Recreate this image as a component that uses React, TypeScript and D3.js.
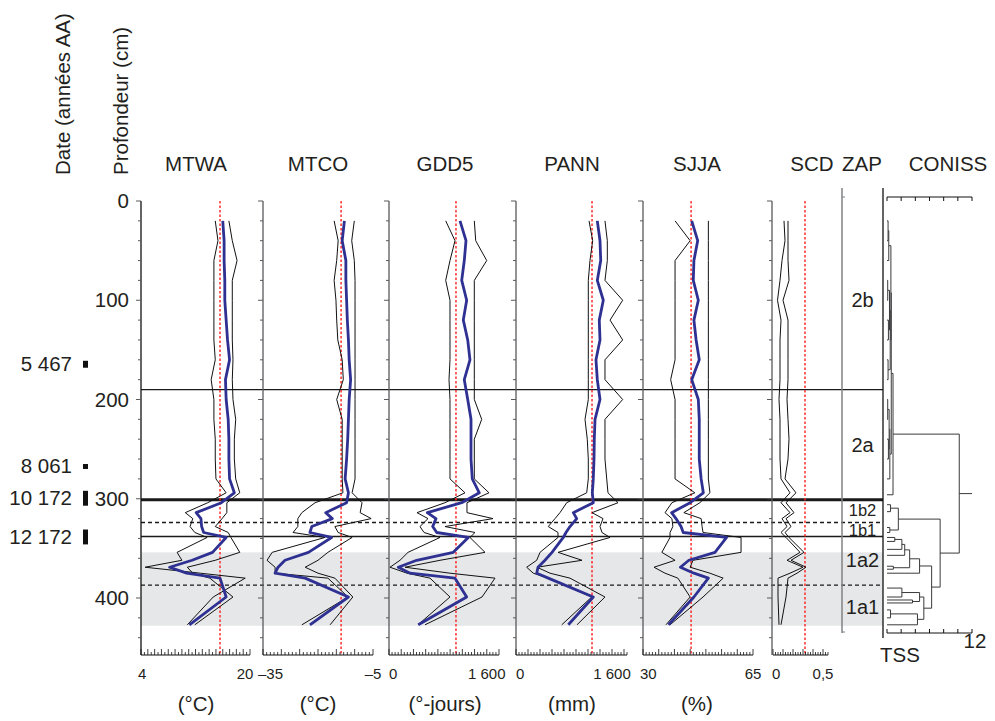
import React from "react";
import * as d3 from "d3";

// ---------- DATA ----------
const depths = [20, 40, 60, 80, 100, 120, 140, 160, 180, 200, 220, 240, 260, 280, 294, 304, 314, 320, 328, 334, 339, 354, 362, 369, 375, 380, 399, 427];

const mtwaMean = [16.0, 16.2, 16.2, 16.3, 16.3, 16.5, 16.7, 17.0, 16.4, 16.5, 16.8, 16.9, 16.9, 17.0, 17.7, 15.8, 12.1, 12.8, 12.9, 13.2, 16.5, 14.5, 11.5, 8.2, 10.7, 15.6, 16.5, 11.1];
const mtwaLow = [14.9, 15.3, 14.7, 14.7, 14.7, 14.7, 14.7, 14.9, 14.3, 14.7, 14.7, 14.9, 14.9, 15.0, 16.5, 13.8, 10.5, 11.6, 11.2, 11.9, 13.7, 9.3, 10.0, 4.6, 12.7, 19.3, 14.6, 10.8];
const mtwaHigh = [16.9, 17.4, 18.1, 17.4, 17.4, 17.4, 17.4, 17.5, 17.4, 17.5, 17.9, 17.7, 17.7, 17.9, 18.5, 16.6, 16.6, 15.9, 14.9, 16.8, 17.2, 18.5, 14.9, 10.8, 11.6, 14.1, 17.5, 11.9];

const mtcoMean = [-12.8, -13.4, -12.4, -12.4, -12.2, -12.0, -11.7, -11.5, -11.1, -11.5, -11.7, -11.9, -12.2, -12.6, -11.7, -12.2, -17.9, -16.1, -21.7, -22.2, -16.3, -22.6, -29.0, -30.9, -31.7, -23.5, -11.7, -22.2];
const mtcoLow = [-15.6, -14.5, -14.9, -15.6, -15.1, -14.9, -14.6, -13.4, -13.1, -14.9, -13.4, -13.4, -13.4, -13.4, -13.2, -20.8, -24.4, -25.5, -25.5, -26.8, -18.1, -32.5, -33.9, -31.7, -31.7, -17.3, -11.8, -24.4];
const mtcoHigh = [-10.1, -10.8, -10.1, -9.9, -9.9, -9.9, -9.9, -9.9, -9.9, -9.9, -9.9, -9.9, -9.9, -9.9, -10.7, -8.0, -8.5, -5.5, -15.4, -14.5, -10.7, -17.3, -20.0, -23.5, -20.0, -15.4, -10.5, -16.7];

const gdd5Mean = [1162, 1260, 1232, 1190, 1271, 1216, 1288, 1325, 1232, 1288, 1342, 1342, 1342, 1363, 1478, 1190, 627, 769, 715, 781, 1298, 1052, 453, 152, 344, 1080, 1271, 479];
const gdd5Low = [928, 1080, 998, 928, 998, 998, 998, 998, 982, 998, 998, 998, 998, 998, 1244, 916, 458, 638, 507, 573, 835, 311, 180, 16, 295, 671, 998, 475];
const gdd5High = [1396, 1419, 1599, 1396, 1396, 1396, 1396, 1396, 1396, 1396, 1517, 1396, 1396, 1396, 1636, 1276, 1276, 1702, 916, 1407, 1325, 1571, 835, 262, 998, 1735, 1522, 589];

const pannMean = [1355, 1400, 1412, 1355, 1455, 1388, 1400, 1333, 1355, 1400, 1317, 1305, 1300, 1288, 1272, 1288, 955, 1012, 900, 833, 788, 600, 483, 367, 345, 538, 1288, 872];
const pannLow = [1217, 1278, 1233, 1205, 1205, 1205, 1205, 1205, 1205, 1205, 1150, 1188, 1205, 1205, 1178, 845, 733, 650, 538, 700, 700, 400, 345, 178, 288, 538, 1262, 762];
const pannHigh = [1483, 1522, 1522, 1483, 1778, 1567, 1778, 1483, 1483, 1778, 1483, 1483, 1483, 1512, 1533, 1700, 1267, 1450, 1400, 1433, 1567, 700, 1100, 350, 567, 900, 1483, 1017];

const sjjaMean = [45.5, 47.4, 46.2, 46.0, 47.6, 46.2, 46.9, 47.9, 45.5, 47.6, 47.9, 47.9, 47.9, 48.5, 49.2, 45.0, 39.1, 40.5, 42.1, 42.8, 56.6, 52.9, 44.6, 41.9, 46.2, 50.8, 46.2, 38.1];
const sjjaLow = [40.2, 45.0, 40.2, 40.2, 40.2, 40.2, 40.2, 40.2, 38.8, 40.2, 40.2, 40.2, 40.2, 40.2, 46.5, 39.2, 37.0, 39.2, 39.5, 38.6, 38.6, 36.0, 40.2, 33.5, 37.0, 41.1, 45.0, 37.3];
const sjjaHigh = [50.8, 50.8, 50.8, 50.8, 50.8, 50.8, 50.8, 50.8, 50.8, 50.8, 50.8, 50.8, 50.8, 50.8, 51.3, 48.1, 43.0, 48.5, 48.8, 49.1, 61.2, 61.2, 45.9, 45.0, 51.3, 55.5, 49.1, 38.6];

const scdLow = [0.11, 0.12, 0.09, 0.07, 0.045, 0.08, 0.07, 0.07, 0.07, 0.06, 0.07, 0.07, 0.07, 0.08, 0.17, 0.08, 0.17, 0.09, 0.14, 0.08, 0.13, 0.27, 0.14, 0.30, 0.17, 0.05, 0.05, 0.06];
const scdHigh = [0.15, 0.15, 0.15, 0.16, 0.10, 0.15, 0.15, 0.15, 0.15, 0.14, 0.15, 0.16, 0.15, 0.12, 0.23, 0.13, 0.21, 0.13, 0.18, 0.12, 0.16, 0.31, 0.18, 0.33, 0.24, 0.15, 0.13, 0.08];

const panelNames = ["MTWA", "MTCO", "GDD5", "PANN", "SJJA", "SCD"];
const panelUnits = ["(°C)", "(°C)", "(°-jours)", "(mm)", "(%)", ""];
const panelDomains: [number, number][] = [[4, 20], [-35, -5], [0, 1800], [0, 1850], [30, 65], [0, 0.55]];
const modernValues = [15.6, -13.7, 1096, 1267, 45.3, 0.32];
const axisMinLabels = ["4", "–35", "0", "0", "30", "0"];
const axisMaxLabels = ["20", "–5", "1 600", "1 600", "65", "0,5"];
const axisMaxValues = [20, -5, 1600, 1600, 65, 0.5];
const tickSteps = [0.5, 1, 50, 50, 1, 0.025];
const majorEvery = [2, 5, 4, 4, 5, 4];

const depthTicks = [0, 100, 200, 300, 400];

const zoneLineDepths = [190, 301, 324, 338, 387];
const zoneLineKinds = ["solid", "thick", "dashed", "solid", "dashed"];
const shadedDepths = [354, 428];
const zoneLabels = ["2b", "2a", "1b2", "1b1", "1a2", "1a1"];
const zoneLabelDepths = [100, 246, 311.3, 331.5, 362, 409];

const dateLabels = ["5 467", "8 061", "10 172", "12 172"];
const dateTop = [161, 265, 292, 331];
const dateBottom = [168, 270, 307, 346];

const conissLeafDepths = [20, 40, 60, 80, 100, 120, 140, 160, 180, 200, 220, 240, 260, 280, 296, 306, 313, 329, 334, 339, 343, 351, 357, 368, 371, 375, 390, 399, 402, 405, 412, 420, 427];
const conissMerges: [number, number, number][] = [
  [0, 1, 0.15], [33, 2, 0.25], [3, 4, 0.1], [5, 6, 0.2], [35, 36, 0.35], [7, 8, 0.15], [37, 38, 0.45], [34, 39, 0.55],
  [9, 10, 0.1], [11, 12, 0.2], [41, 42, 0.3], [43, 13, 0.4], [40, 44, 0.6], [45, 14, 0.85],
  [15, 16, 0.5], [17, 18, 0.4], [47, 48, 1.6],
  [19, 20, 1.1], [50, 21, 2.1], [51, 22, 2.5], [23, 24, 0.9], [52, 53, 3.2], [54, 25, 4.6],
  [26, 27, 2.1], [28, 29, 3.6], [56, 57, 4.6], [30, 31, 0.5], [59, 32, 4.3], [58, 60, 5.2], [55, 61, 6.3],
  [49, 62, 7.5], [46, 63, 10.2],
];
const tssTicks = [0, 2, 4, 6, 8, 10, 12];

// ---------- LAYOUT ----------
const panelLeft = [141, 263, 389, 516, 643, 772];
const axisRanges: [number, number][] = [[141, 250], [263, 373], [389, 499], [516, 627], [643, 753], [773, 828]];
const headerX = [196, 318, 445, 572, 697, 812];
const minLabelDx = [-3, -5, 0, 0, -3, -1];
const maxLabelDx = [-5, 0, 0, 0, 0, 0];
const AXIS_Y = 655;
const TOP_Y = 201;
const ZAP_X = 842;
const CON_X = 883;
const TXT = "#231f20";
const FONT = "'Liberation Sans', Arial, Helvetica, sans-serif";

export default function App() {
  const y = d3.scaleLinear().domain([0, 400]).range([201, 598]);
  const tss = d3.scaleLinear().domain([0, 12]).range([887, 972]);

  const series = [
    { mean: mtwaMean, lo: mtwaLow, hi: mtwaHigh },
    { mean: mtcoMean, lo: mtcoLow, hi: mtcoHigh },
    { mean: gdd5Mean, lo: gdd5Low, hi: gdd5High },
    { mean: pannMean, lo: pannLow, hi: pannHigh },
    { mean: sjjaMean, lo: sjjaLow, hi: sjjaHigh },
    { mean: null as number[] | null, lo: scdLow, hi: scdHigh },
  ];

  const depthTickVals = d3.range(0, 441, 20);

  // dendrogram
  const nodes: { y: number; h: number }[] = conissLeafDepths.map((d) => ({ y: y(d), h: 0 }));
  const segs: [number, number, number, number][] = [];
  conissMerges.forEach(([a, b, h]) => {
    const A = nodes[a];
    const B = nodes[b];
    const xn = tss(h);
    segs.push([tss(A.h), A.y, xn, A.y]);
    segs.push([tss(B.h), B.y, xn, B.y]);
    segs.push([xn, A.y, xn, B.y]);
    nodes.push({ y: (A.y + B.y) / 2, h });
  });
  const root = nodes[nodes.length - 1];
  segs.push([tss(root.h), root.y, tss(12), root.y]);

  return (
    <svg
      width={995}
      height={721}
      style={{ position: "absolute", left: 0, top: 0, background: "#fff" }}
      fontFamily={FONT}
    >
      <rect x={0} y={0} width={995} height={721} fill="#fff" />
      <rect x={141} y={y(shadedDepths[0])} width={CON_X - 141} height={y(shadedDepths[1]) - y(shadedDepths[0])} fill="#e6e7e8" />

      <text transform="translate(70,175) rotate(-90)" fontSize={20.5} fill={TXT}>Date (années AA)</text>
      <text transform="translate(128,175) rotate(-90)" fontSize={20.5} fill={TXT}>Profondeur (cm)</text>

      {depthTicks.map((d) => (
        <text key={d} x={129} y={y(d) + 7} textAnchor="end" fontSize={20.5} fill={TXT}>{d}</text>
      ))}

      {dateLabels.map((lab, i) => (
        <g key={lab}>
          <text x={72} y={(y(dateTop[i]) + y(dateBottom[i])) / 2 + 7} textAnchor="end" fontSize={20.5} fill={TXT}>{lab}</text>
          <rect x={83} y={y(dateTop[i])} width={5} height={y(dateBottom[i]) - y(dateTop[i])} fill="#111" />
        </g>
      ))}

      {panelNames.map((n, i) => (
        <text key={n} x={headerX[i]} y={171} textAnchor="middle" fontSize={20.5} fill={TXT}>{n}</text>
      ))}
      <text x={862} y={171} textAnchor="middle" fontSize={20.5} fill={TXT}>ZAP</text>
      <text x={948} y={171} textAnchor="middle" fontSize={20.5} fill={TXT}>CONISS</text>

      {zoneLineDepths.map((d, i) => (
        <line
          key={d}
          x1={141}
          x2={CON_X}
          y1={y(d)}
          y2={y(d)}
          stroke="#1a1a1a"
          strokeWidth={zoneLineKinds[i] === "thick" ? 3 : 1.4}
          strokeDasharray={zoneLineKinds[i] === "dashed" ? "4,3" : undefined}
        />
      ))}

      {panelNames.map((n, i) => {
        const xs = d3.scaleLinear().domain(panelDomains[i]).range(axisRanges[i]);
        const s = series[i];
        const line = d3
          .line<number>()
          .x((v) => xs(v))
          .y((_, k) => y(depths[k]));
        const step = tickSteps[i];
        const [dmin, dmax] = panelDomains[i];
        const nT = Math.round((dmax - dmin) / step);
        const xt = d3.range(0, nT + 1).map((k) => dmin + k * step);
        return (
          <g key={n}>
            <line x1={panelLeft[i]} x2={panelLeft[i]} y1={TOP_Y} y2={AXIS_Y} stroke={i === 0 ? "#111" : "#58595b"} strokeWidth={1.3} />
            {depthTickVals.map((d) => (
              <line key={d} x1={panelLeft[i] - (d % 100 === 0 ? 5 : 3)} x2={panelLeft[i]} y1={y(d)} y2={y(d)} stroke="#58595b" strokeWidth={1} />
            ))}
            <line x1={xs(modernValues[i])} x2={xs(modernValues[i])} y1={TOP_Y} y2={AXIS_Y} stroke="#ff2020" strokeWidth={1.4} strokeDasharray="2.5,2" />
            <path d={line(s.lo) || ""} fill="none" stroke="#111" strokeWidth={1} />
            <path d={line(s.hi) || ""} fill="none" stroke="#111" strokeWidth={1} />
            {s.mean && <path d={line(s.mean) || ""} fill="none" stroke="#2e3192" strokeWidth={2.8} strokeLinejoin="round" />}
            <line x1={axisRanges[i][0]} x2={axisRanges[i][1]} y1={AXIS_Y} y2={AXIS_Y} stroke="#111" strokeWidth={1} />
            {xt.map((v, k) => (
              <line key={k} x1={xs(v)} x2={xs(v)} y1={AXIS_Y} y2={AXIS_Y - (k % majorEvery[i] === 0 ? 6 : 3)} stroke="#111" strokeWidth={0.8} />
            ))}
            <text x={xs(dmin) + minLabelDx[i]} y={679} fontSize={15} fill={TXT} textAnchor="start">{axisMinLabels[i]}</text>
            <text x={xs(axisMaxValues[i]) + maxLabelDx[i]} y={679} fontSize={15} fill={TXT} textAnchor="middle">{axisMaxLabels[i]}</text>
            <text x={headerX[i]} y={711} fontSize={20.5} fill={TXT} textAnchor="middle">{panelUnits[i]}</text>
          </g>
        );
      })}

      <line x1={ZAP_X} x2={ZAP_X} y1={188} y2={633} stroke="#808285" strokeWidth={1.5} />
      <line x1={ZAP_X} x2={ZAP_X + 3} y1={197} y2={197} stroke="#808285" strokeWidth={1} />
      <line x1={ZAP_X} x2={ZAP_X + 3} y1={632} y2={632} stroke="#808285" strokeWidth={1} />
      {zoneLabels.map((z, i) => (
        <text key={z} x={862.5} y={y(zoneLabelDepths[i]) + (i === 2 || i === 3 ? 6 : 7)} textAnchor="middle" fontSize={i === 2 || i === 3 ? 16.5 : 20} fill={TXT}>{z}</text>
      ))}

      <line x1={CON_X} x2={CON_X} y1={188} y2={638} stroke="#111" strokeWidth={1.3} />
      <line x1={tss(0)} x2={tss(12)} y1={197} y2={197} stroke="#111" strokeWidth={1} />
      {tssTicks.map((t) => (
        <line key={"t" + t} x1={tss(t)} x2={tss(t)} y1={197} y2={201} stroke="#111" strokeWidth={1} />
      ))}
      <line x1={tss(0)} x2={tss(12)} y1={633} y2={633} stroke="#111" strokeWidth={1} />
      {tssTicks.map((t) => (
        <line key={"b" + t} x1={tss(t)} x2={tss(t)} y1={633} y2={629} stroke="#111" strokeWidth={1} />
      ))}
      {segs.map((s, i) => (
        <line key={i} x1={s[0]} y1={s[1]} x2={s[2]} y2={s[3]} stroke="#3a3a3c" strokeWidth={1} />
      ))}
      <text x={880} y={662} fontSize={20.5} fill={TXT}>TSS</text>
      <text x={975} y={648} fontSize={20.5} fill={TXT} textAnchor="middle">12</text>
    </svg>
  );
}
